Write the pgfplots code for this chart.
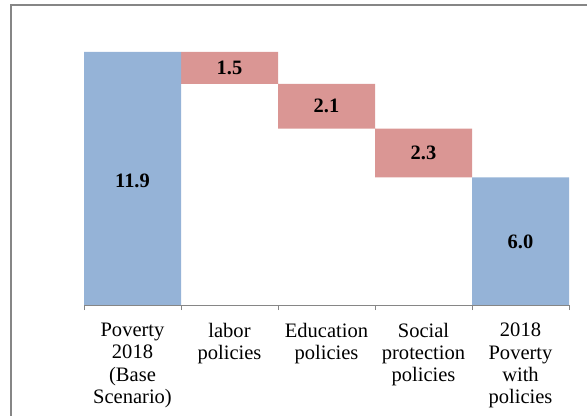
\documentclass[border=0pt]{standalone}
\usepackage{pgfplots}
\pgfplotsset{compat=1.18}
\usepackage{fontspec}
\setmainfont{Liberation Serif}
\definecolor{barblue}{RGB}{149,179,215}
\definecolor{barred}{RGB}{218,150,148}
\definecolor{framegray}{RGB}{134,134,134}
\begin{document}
\begin{tikzpicture}
\useasboundingbox (0,0) rectangle (587bp,416bp);
\draw[framegray, line width=2bp] (11bp,-2bp) -- (11bp,411bp) -- (589bp,411bp);
\pgfplotsset{wf/.style={scale only axis, width=485bp, height=276.4bp,
  at={(84bp,111bp)}, anchor=south west,
  xmin=-0.5, xmax=4.5, ymin=0, ymax=13}}
\begin{axis}[wf, ybar stacked, bar width=1,
  axis y line=none, axis x line*=bottom,
  x axis line style={framegray, line width=1bp, -},
  xtick={0,1,2,3,4},
  xticklabels={{Poverty\\2018\\(Base\\Scenario)},{labor\\policies},{Education\\policies},{Social\\protection\\policies},{2018\\Poverty\\with\\policies}},
  major tick length=0pt,
  minor xtick={-0.5,0.5,1.5,2.5,3.5,4.5},
  minor tick length=5bp, tick align=outside,
  tick style={framegray, line width=1bp},
  xticklabel style={align=center, text width=95bp, anchor=north, inner sep=0pt, yshift=-18bp,
    font=\fontsize{20.6}{22.3}\selectfont},
]
\addplot[fill=none, draw=none] coordinates {(0,0) (1,10.4) (2,8.3) (3,6.0) (4,0)};
\addplot[fill=barblue, draw=none] coordinates {(0,11.9) (1,0) (2,0) (3,0) (4,6.0)};
\addplot[fill=barred, draw=none] coordinates {(0,0) (1,1.5) (2,2.1) (3,2.3) (4,0)};
\end{axis}
\begin{axis}[wf, hide axis]
\addplot[only marks, mark=none, nodes near coords, point meta=explicit symbolic,
  nodes near coords style={anchor=center, inner sep=0pt, font=\fontsize{20.5}{22}\selectfont\bfseries}]
  coordinates {(0,5.85)[11.9] (1,11.15)[1.5] (2,9.35)[2.1] (3,7.15)[2.3] (4,2.95)[6.0]};
\end{axis}
\end{tikzpicture}
\end{document}
